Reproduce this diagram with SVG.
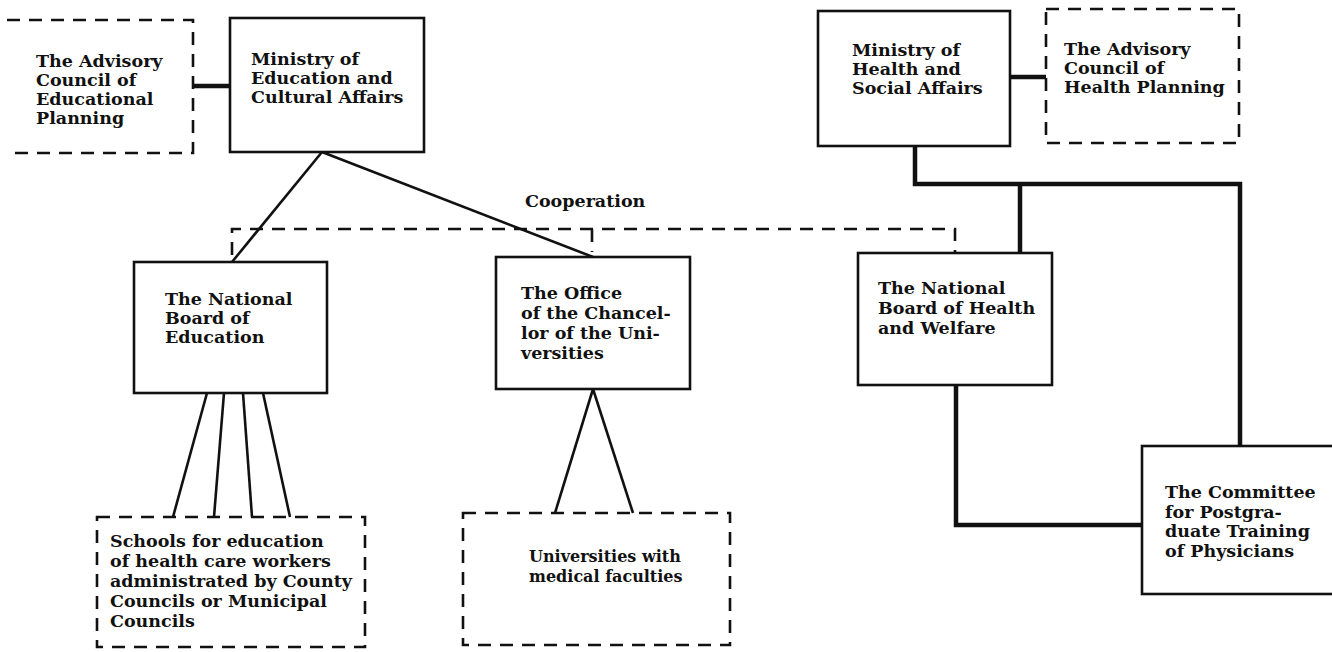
<svg xmlns="http://www.w3.org/2000/svg" width="1332" height="652" viewBox="0 0 1332 652">
<style>
.box{fill:none;stroke:#111;stroke-width:2.6}
.dbox{fill:none;stroke:#111;stroke-width:2.6;stroke-dasharray:13 9}
.ln{fill:none;stroke:#111;stroke-width:2.6}
.thick{fill:none;stroke:#111;stroke-width:4.5}
.dash{fill:none;stroke:#111;stroke-width:2.6;stroke-dasharray:13 9}
text{font-family:"DejaVu Serif","Liberation Serif",serif;font-size:17.5px;font-weight:bold;fill:#111}
text.sm{font-size:16px}
</style>
<rect width="1332" height="652" fill="#fff"/>
<g id="connectors">
<line class="thick" x1="193" y1="86" x2="230" y2="86"/>
<line class="ln" x1="322" y1="152" x2="232" y2="262"/>
<line class="ln" x1="322" y1="152" x2="593" y2="257"/>
<path class="dash" d="M232,255 V229 H955 V252"/>
<line class="dash" x1="592" y1="229" x2="592" y2="252"/>
<line class="ln" x1="207" y1="393" x2="173" y2="517"/>
<line class="ln" x1="224" y1="393" x2="214" y2="517"/>
<line class="ln" x1="243" y1="393" x2="252" y2="517"/>
<line class="ln" x1="263" y1="393" x2="290" y2="517"/>
<line class="ln" x1="593" y1="389" x2="555" y2="513"/>
<line class="ln" x1="593" y1="389" x2="633" y2="513"/>
<line class="thick" x1="1010" y1="77" x2="1046" y2="77"/>
<path class="thick" d="M915,146 V184 H1240 V446"/>
<line class="thick" x1="1020" y1="184" x2="1020" y2="253"/>
<path class="thick" d="M956,385 V525 H1142"/>
<text x="525" y="207">Cooperation</text>
</g>
<g id="advisory-education">
<path class="dbox" d="M7,20 H193 V153 H7"/>
<text x="36" y="67"><tspan x="36">The Advisory</tspan><tspan x="36" dy="19">Council of</tspan><tspan x="36" dy="19">Educational</tspan><tspan x="36" dy="19">Planning</tspan></text>
</g>
<g id="ministry-education">
<rect class="box" x="230" y="18" width="194" height="134"/>
<text x="251" y="65"><tspan x="251">Ministry of</tspan><tspan x="251" dy="19">Education and</tspan><tspan x="251" dy="19">Cultural Affairs</tspan></text>
</g>
<g id="ministry-health">
<rect class="box" x="818" y="11" width="192" height="135"/>
<text x="852" y="56"><tspan x="852">Ministry of</tspan><tspan x="852" dy="19">Health and</tspan><tspan x="852" dy="19">Social Affairs</tspan></text>
</g>
<g id="advisory-health">
<rect class="dbox" x="1046" y="9" width="193" height="134"/>
<text x="1064" y="55"><tspan x="1064">The Advisory</tspan><tspan x="1064" dy="19">Council of</tspan><tspan x="1064" dy="19">Health Planning</tspan></text>
</g>
<g id="national-board-education">
<rect class="box" x="134" y="262" width="193" height="131"/>
<text x="165" y="305"><tspan x="165">The National</tspan><tspan x="165" dy="19">Board of</tspan><tspan x="165" dy="19">Education</tspan></text>
</g>
<g id="office-chancellor">
<rect class="box" x="496" y="257" width="194" height="132"/>
<text x="521" y="299"><tspan x="521">The Office</tspan><tspan x="521" dy="20">of the Chancel-</tspan><tspan x="521" dy="20">lor of the Uni-</tspan><tspan x="521" dy="20">versities</tspan></text>
</g>
<g id="national-board-health">
<rect class="box" x="858" y="253" width="194" height="132"/>
<text x="878" y="294"><tspan x="878">The National</tspan><tspan x="878" dy="20">Board of Health</tspan><tspan x="878" dy="20">and Welfare</tspan></text>
</g>
<g id="schools">
<rect class="dbox" x="97" y="517" width="268" height="130"/>
<text x="110" y="547"><tspan x="110">Schools for education</tspan><tspan x="110" dy="20">of health care workers</tspan><tspan x="110" dy="20">administrated by County</tspan><tspan x="110" dy="20">Councils or Municipal</tspan><tspan x="110" dy="20">Councils</tspan></text>
</g>
<g id="universities">
<rect class="dbox" x="463" y="513" width="267" height="132"/>
<text class="sm" x="529" y="562"><tspan x="529">Universities with</tspan><tspan x="529" dy="20">medical faculties</tspan></text>
</g>
<g id="committee">
<rect class="box" x="1142" y="446" width="200" height="148"/>
<text x="1165" y="498"><tspan x="1165">The Committee</tspan><tspan x="1165" dy="19.5">for Postgra-</tspan><tspan x="1165" dy="19.5">duate Training</tspan><tspan x="1165" dy="19.5">of Physicians</tspan></text>
</g>
</svg>
